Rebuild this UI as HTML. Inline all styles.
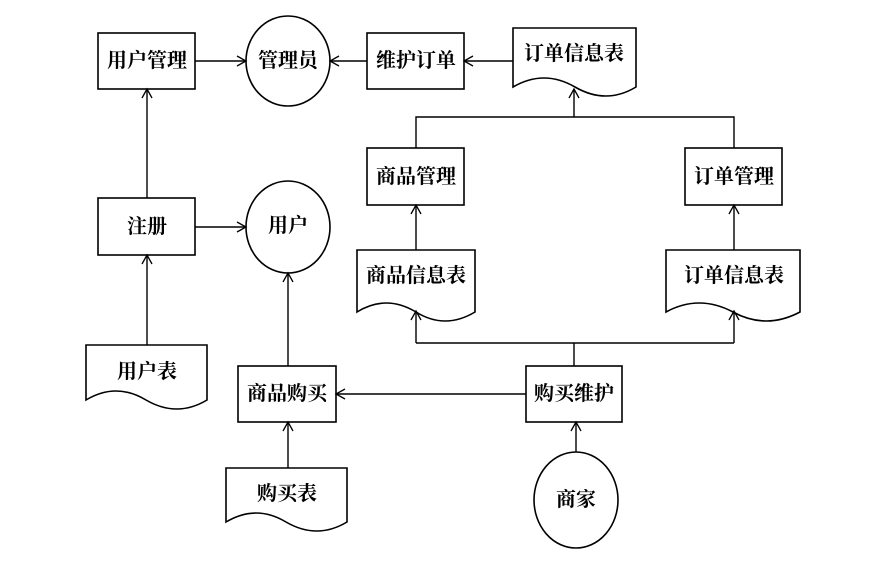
<!DOCTYPE html>
<html><head><meta charset="utf-8"><style>
html,body{margin:0;padding:0;background:#fff;}
svg text{font-family:"Liberation Serif","Noto Serif CJK SC",serif;font-size:20px;font-weight:bold;fill:#000;text-anchor:middle;dominant-baseline:central;}
</style></head><body>
<svg width="888" height="563" viewBox="0 0 888 563" xmlns="http://www.w3.org/2000/svg">
<defs><marker id="a" markerWidth="12" markerHeight="12" refX="10" refY="6" orient="auto" markerUnits="userSpaceOnUse"><polyline points="1,1 10,6 1,11" fill="none" stroke="#000" stroke-width="1.3"/></marker></defs>
<g fill="none" stroke="#000" stroke-width="1.6">
<rect x="98" y="33" width="97" height="56"/>
<ellipse cx="288" cy="61" rx="42" ry="45"/>
<rect x="367" y="33" width="97" height="56"/>
<path d="M513,28 H636 V87 Q605,69 574,87 Q543,105 513,87 Z" transform="translate(1149,0) scale(-1,1)"/>
<rect x="367" y="148" width="97" height="57"/>
<rect x="685" y="148" width="97" height="57"/>
<rect x="98" y="198" width="97" height="57"/>
<ellipse cx="288" cy="227" rx="42" ry="46"/>
<path d="M357,250 H475 V312 Q446,294 416,312 Q387,330 357,312 Z" transform="translate(832,0) scale(-1,1)"/>
<path d="M666,250 H800 V312 Q767,294 733,312 Q700,330 666,312 Z" transform="translate(1466,0) scale(-1,1)"/>
<path d="M86,345 H207 V400 Q177,382 147,400 Q116,418 86,400 Z" transform="translate(293,0) scale(-1,1)"/>
<rect x="238" y="366" width="98" height="56"/>
<rect x="526" y="366" width="96" height="56"/>
<path d="M226,468 H347 V522 Q317,504 287,522 Q256,540 226,522 Z" transform="translate(573,0) scale(-1,1)"/>
<ellipse cx="576" cy="500" rx="42" ry="48"/>
</g>
<g fill="none" stroke="#000" stroke-width="1.4">
<line x1="195" y1="61" x2="246" y2="61" marker-end="url(#a)"/>
<line x1="367" y1="61" x2="330" y2="61" marker-end="url(#a)"/>
<line x1="513" y1="61" x2="464" y2="61" marker-end="url(#a)"/>
<polyline points="416,148 416,117 734,117 734,148"/>
<line x1="574" y1="117" x2="574" y2="89" marker-end="url(#a)"/>
<line x1="147" y1="198" x2="147" y2="89" marker-end="url(#a)"/>
<line x1="195" y1="227" x2="246" y2="227" marker-end="url(#a)"/>
<line x1="147" y1="345" x2="147" y2="255" marker-end="url(#a)"/>
<line x1="416" y1="250" x2="416" y2="205" marker-end="url(#a)"/>
<line x1="734" y1="250" x2="734" y2="205" marker-end="url(#a)"/>
<polyline points="574,366 574,343"/>
<line x1="416" y1="343" x2="734" y2="343"/>
<line x1="416" y1="343" x2="416" y2="311" marker-end="url(#a)"/>
<line x1="734" y1="343" x2="734" y2="311" marker-end="url(#a)"/>
<line x1="526" y1="394" x2="336" y2="394" marker-end="url(#a)"/>
<line x1="288" y1="366" x2="288" y2="273" marker-end="url(#a)"/>
<line x1="288" y1="468" x2="288" y2="422" marker-end="url(#a)"/>
<line x1="576" y1="452" x2="576" y2="422" marker-end="url(#a)"/>
</g>
<text x="147" y="61">用户管理</text>
<text x="288" y="61">管理员</text>
<text x="416" y="61">维护订单</text>
<text x="574" y="54">订单信息表</text>
<text x="416" y="177">商品管理</text>
<text x="734" y="177">订单管理</text>
<text x="147" y="227">注册</text>
<text x="288" y="226">用户</text>
<text x="416" y="276">商品信息表</text>
<text x="734" y="276">订单信息表</text>
<text x="147" y="372">用户表</text>
<text x="287" y="394">商品购买</text>
<text x="574" y="394">购买维护</text>
<text x="287" y="494">购买表</text>
<text x="576" y="500">商家</text>
</svg>
</body></html>
